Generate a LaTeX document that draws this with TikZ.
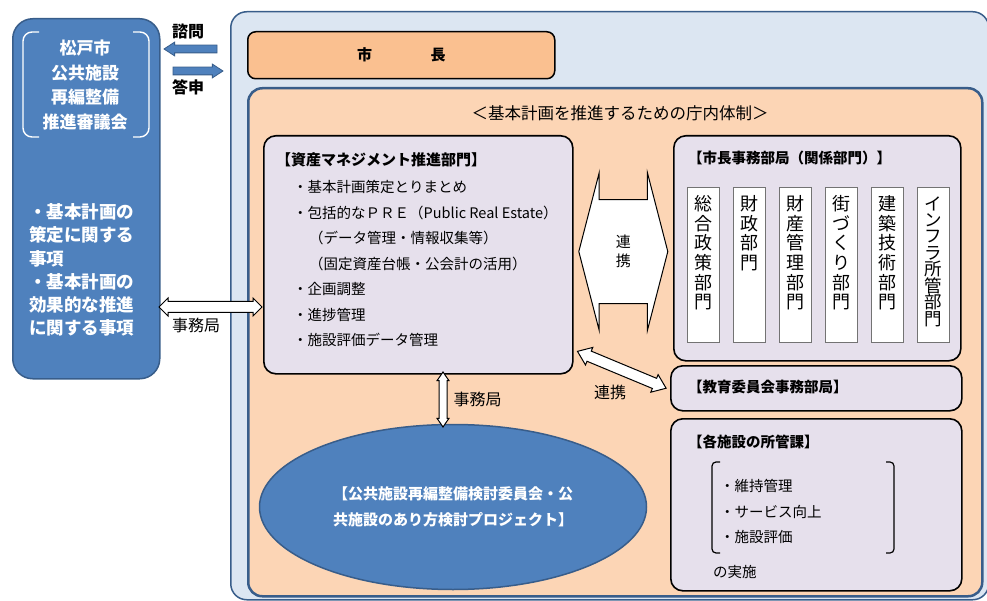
\documentclass[tikz,border=0pt]{standalone}
\usepackage{fontspec}
\setmainfont{Noto Sans CJK JP}
\usepackage{tikz}
\usetikzlibrary{positioning,shapes.geometric,shapes.arrows,calc}
\definecolor{bluefill}{HTML}{4F81BD}
\definecolor{bluedark}{HTML}{385D8A}
\definecolor{paleblue}{HTML}{DCE6F2}
\definecolor{paleorange}{HTML}{FCD5B5}
\definecolor{mayorfill}{HTML}{FAC090}
\definecolor{lavfill}{HTML}{E6E0EC}
\tikzstyle{panel_box}=[draw=black, line width=1.6pt, rounded corners=12pt, fill=lavfill, anchor=north west, inner sep=0pt]
\tikzstyle{dept_box}=[draw=black!55, line width=0.8pt, fill=white, minimum width=32pt, minimum height=155pt, inner sep=0pt]
\tikzstyle{dept_text}=[font=\fontsize{18}{19.6}\selectfont, anchor=base, inner sep=0pt]
\tikzstyle{head_text}=[font=\fontsize{14.5}{18}\selectfont\bfseries, anchor=west, inner sep=0pt]
\tikzstyle{body_text}=[font=\fontsize{14.5}{25.5}\selectfont, align=left, anchor=west, inner sep=0pt]
\tikzstyle{link_arrow}=[double arrow, draw=black, line width=1pt, fill=white, inner sep=0pt, minimum width=0pt]
\tikzstyle{feed_arrow}=[single arrow, draw=bluedark, line width=0.8pt, fill=bluefill, inner sep=0pt, minimum width=0pt, single arrow head extend=3pt, single arrow tip angle=66]
\tikzstyle{tag_text}=[font=\fontsize{16}{18}\selectfont, inner sep=0pt]

\begin{document}
\begin{tikzpicture}[x=1pt, y=-1pt]
    \useasboundingbox (0,0) rectangle (987,601);
    % council
    \node [draw=bluedark, line width=1.5pt, fill=bluefill, rounded corners=20pt, anchor=north west, minimum width=147pt, minimum height=360pt, inner sep=0pt] (0) at (12,18) {};
    \draw[white, line width=1.4pt, rounded corners=9pt] (39,32) -- (23,32) -- (23,137) -- (39,137);
    \draw[white, line width=1.4pt, rounded corners=9pt] (133,32) -- (149,32) -- (149,137) -- (133,137);
    \node [text=white, font=\fontsize{17}{24.7}\selectfont\bfseries, align=center, inner sep=0pt] (1) at (85,85) {松戸市\\公共施設\\再編整備\\推進審議会};
    \node [text=white, font=\fontsize{17.5}{23.2}\selectfont\bfseries, align=left, anchor=west, inner sep=0pt] (2) at (29,270) {・基本計画の\\策定に関する\\事項\\・基本計画の\\効果的な推進\\に関する事項};
    % city hall
    \node [draw=bluedark, line width=1.5pt, fill=paleblue, rounded corners=16pt, anchor=north west, minimum width=758pt, minimum height=588pt, inner sep=0pt] (3) at (230,11) {};
    \node [draw=black, line width=1.5pt, fill=mayorfill, rounded corners=8pt, anchor=north west, minimum width=307pt, minimum height=47pt, inner sep=0pt, font=\fontsize{15}{18}\selectfont\bfseries] (4) at (247,31) {市\hspace{3.9em}長};
    \node [draw=bluedark, line width=2.5pt, fill=paleorange, rounded corners=14pt, anchor=north west, minimum width=734pt, minimum height=508pt, inner sep=0pt] (5) at (247,87) {};
    \node [font=\fontsize{16.5}{18}\selectfont, inner sep=0pt] (6) at (620,113) {＜基本計画を推進するための庁内体制＞};
    % asset management
    \node [panel_box, minimum width=309pt, minimum height=238pt] (7) at (263,135) {};
    \node [head_text, font=\fontsize{15}{18}\selectfont\bfseries] (8) at (276,160) {【資産マネジメント推進部門】};
    \node [body_text] (9) at (293,263.5) {・基本計画策定とりまとめ\\・包括的なＰＲＥ（Public Real Estate）\\\hspace{1.1em}（データ管理・情報収集等）\\\hspace{1.1em}（固定資産台帳・公会計の活用）\\・企画調整\\・進捗管理\\・施設評価データ管理};
    % mayor's departments
    \node [panel_box, minimum width=287pt, minimum height=225pt] (11) at (673,135) {};
    \node [head_text] (12) at (688,158) {【市長事務部局（関係部門）】};
    \node [dept_box, anchor=north west] (13) at (687,187) {};
    \node [dept_box, right=13.2pt of 13] (14) {};
    \node [dept_box, right=13.2pt of 14] (15) {};
    \node [dept_box, right=13.2pt of 15] (16) {};
    \node [dept_box, right=13.2pt of 16] (17) {};
    \node [dept_box, right=13.2pt of 17] (18) {};
    \foreach \c [count=\i] in {総,合,政,策,部,門} \node [dept_text] at ($(13.north)+(0,19.6*\i+4.2)$) {\c};
    \foreach \c [count=\i] in {財,政,部,門} \node [dept_text] at ($(14.north)+(0,19.6*\i+4.2)$) {\c};
    \foreach \c [count=\i] in {財,産,管,理,部,門} \node [dept_text] at ($(15.north)+(0,19.6*\i+4.2)$) {\c};
    \foreach \c [count=\i] in {街,づ,く,り,部,門} \node [dept_text] at ($(16.north)+(0,19.6*\i+4.2)$) {\c};
    \foreach \c [count=\i] in {建,築,技,術,部,門} \node [dept_text] at ($(17.north)+(0,19.6*\i+4.2)$) {\c};
    \foreach \c [count=\i] in {イ,ン,フ,ラ,所,管,部,門} \node [dept_text, font=\fontsize{17.5}{18}\selectfont] at ($(18.north)+(0,16.4*\i+6.8)$) {\c};
    \node [link_arrow, minimum height=89pt, inner ysep=51.5pt, double arrow head extend=27pt, double arrow tip angle=151] (10) at ($(7.east)!.5!(11.west)$) {};
    \node [tag_text, align=center, font=\fontsize{15}{19}\selectfont] at (10) {連\\携};
    % education board
    \node [panel_box, minimum width=291pt, minimum height=45pt] (19) at (670,365) {};
    \node [head_text] (20) at (688,387) {【教育委員会事務部局】};
    \node [link_arrow, minimum height=96pt, inner ysep=5pt, double arrow head extend=4pt, double arrow tip angle=74, rotate=-22.6] (21) at ($(7.south east)!.5!(19.north west)$) {};
    \node [tag_text] at (610,392) {連携};
    % facility sections
    \node [panel_box, minimum width=291pt, minimum height=172pt] (22) at (670,418) {};
    \node [head_text] (23) at (688,442) {【各施設の所管課】};
    \draw[line width=1.2pt, rounded corners=4pt] (720,462) -- (712,462) -- (712,553) -- (720,553);
    \draw[line width=1.2pt, rounded corners=4pt] (886,462) -- (894,462) -- (894,553) -- (886,553);
    \node [body_text] (24) at (720,511.5) {・維持管理\\・サービス向上\\・施設評価};
    \node [body_text] (25) at (713,572) {の実施};
    % review committee
    \node [ellipse, draw=bluedark, line width=1.5pt, fill=bluefill, minimum width=387pt, minimum height=165pt, inner sep=0pt, text=white, align=center, font=\fontsize{15}{26}\selectfont\bfseries] (26) at (453,507) {【公共施設再編整備検討委員会・公\\共施設のあり方検討プロジェクト】};
    \node [link_arrow, minimum height=55pt, inner ysep=3.5pt, double arrow head extend=2pt, double arrow tip angle=69, rotate=90] (27) at (443,399.5) {};
    \node [tag_text, right=6pt of 27.south] {事務局};
    \node [link_arrow, minimum height=103pt, inner ysep=5pt, double arrow head extend=3.5pt, double arrow tip angle=90] (28) at (210.5,307) {};
    \node [tag_text] at (196,325) {事務局};
    % inquiry and report
    \node [feed_arrow, minimum height=53pt, inner ysep=3.5pt, shape border rotate=180] (29) at (193.5,49) {};
    \node [feed_arrow, minimum height=50pt, inner ysep=3.5pt] (30) at (195,71) {};
    \node [tag_text, font=\fontsize{16}{18}\selectfont\bfseries] at (188,31) {諮問};
    \node [tag_text, font=\fontsize{16}{18}\selectfont\bfseries] at (188,87) {答申};
\end{tikzpicture}
\end{document}
